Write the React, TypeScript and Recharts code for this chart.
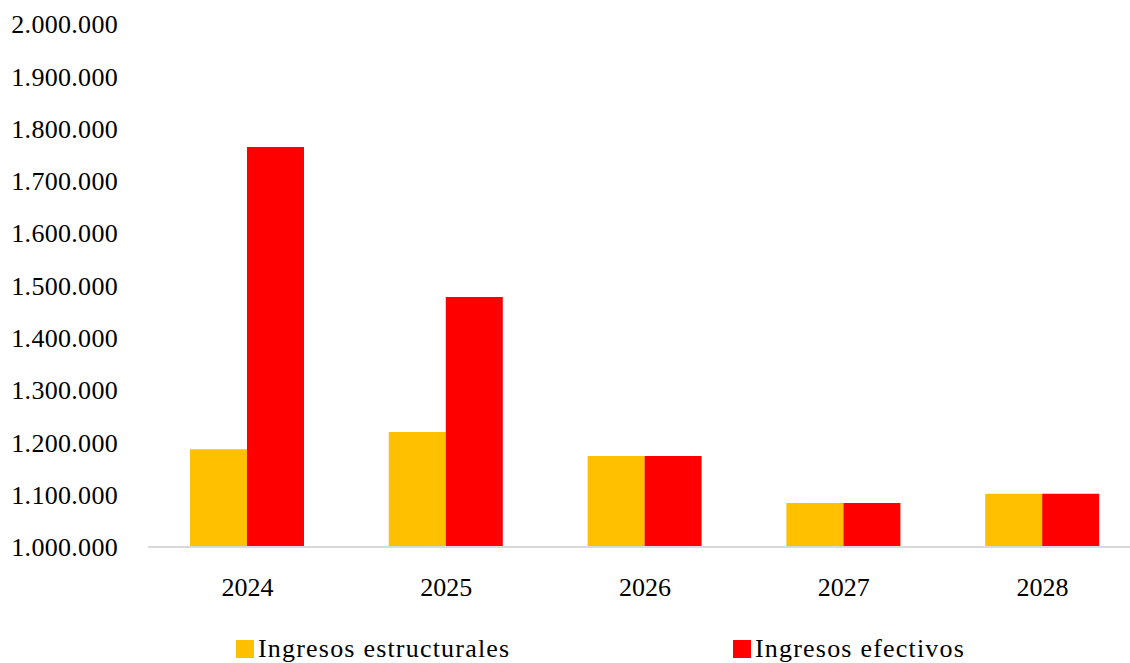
import React from "react";
import { BarChart, Bar, XAxis, YAxis, Legend } from "recharts";

const years = ["2024", "2025", "2026", "2027", "2028"];
const estructurales = [1187000, 1220000, 1174000, 1084000, 1102000];
const efectivos = [1765000, 1478000, 1174000, 1084000, 1102000];
const yTicks = [
  1000000, 1100000, 1200000, 1300000, 1400000, 1500000, 1600000, 1700000,
  1800000, 1900000, 2000000,
];

const data = years.map((year, i) => ({
  year,
  estructurales: estructurales[i],
  efectivos: efectivos[i],
}));

const FONT = '"Liberation Serif", "DejaVu Serif", serif';
const YELLOW = "#FFC000";
const RED = "#FF0000";

function fmt(v: number): string {
  return String(v).replace(/\B(?=(\d{3})+(?!\d))/g, ".");
}

function LegendContent() {
  const items = [
    { label: "Ingresos estructurales", color: YELLOW, left: 236 },
    { label: "Ingresos efectivos", color: RED, left: 733 },
  ];
  return (
    <div style={{ position: "relative", height: 0 }}>
      {items.map((it) => (
        <div
          key={it.label}
          style={{
            position: "absolute",
            left: it.left,
            top: 0,
            display: "flex",
            alignItems: "center",
            fontFamily: FONT,
            fontSize: 26,
            lineHeight: "30px",
            letterSpacing: 1.2,
            color: "#000",
            whiteSpace: "nowrap",
          }}
        >
          <span
            style={{
              display: "inline-block",
              width: 18,
              height: 18,
              background: it.color,
              marginRight: 4,
            }}
          />
          {it.label}
        </div>
      ))}
    </div>
  );
}

export default function App() {
  return (
    <div
      style={{
        position: "absolute",
        left: 0,
        top: 0,
        width: 1130,
        height: 663,
        overflow: "hidden",
        background: "#fff",
      }}
    >
      <BarChart
        width={1150}
        height={663}
        data={data}
        margin={{ top: 24, right: 8, left: 0, bottom: 56 }}
        barGap={0}
        barSize={57}
      >
        <XAxis
          dataKey="year"
          axisLine={{ stroke: "#d9d9d9", strokeWidth: 2 }}
          tickLine={false}
          tickSize={0}
          tickMargin={31}
          height={60}
          tick={{ fill: "#000", fontSize: 26, fontFamily: FONT }}
        />
        <YAxis
          domain={[1000000, 2000000]}
          ticks={yTicks}
          interval={0}
          width={148}
          axisLine={false}
          tickLine={false}
          tickSize={0}
          tickMargin={30}
          tickFormatter={fmt}
          tick={{ fill: "#000", fontSize: 26, fontFamily: FONT, letterSpacing: 0.3 }}
        />
        <Legend
          content={<LegendContent />}
          wrapperStyle={{ top: 634, left: 0, width: 1130, height: 0 }}
        />
        <Bar
          dataKey="estructurales"
          name="Ingresos estructurales"
          fill={YELLOW}
          isAnimationActive={false}
        />
        <Bar
          dataKey="efectivos"
          name="Ingresos efectivos"
          fill={RED}
          isAnimationActive={false}
        />
      </BarChart>
    </div>
  );
}
